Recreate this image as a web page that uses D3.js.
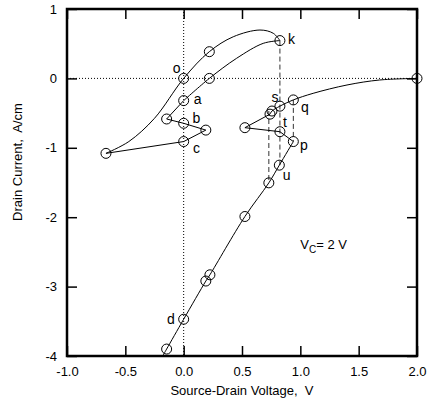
<!DOCTYPE html>
<html>
<head>
<meta charset="utf-8">
<script src="https://cdn.jsdelivr.net/npm/d3@7"></script>
<style>
  body { margin: 0; background: #fff; }
  text { font-family: "Liberation Sans", Arial, sans-serif; white-space: pre; }
</style>
</head>
<body>
<div id="chart"></div>
<script>
// left loop, upper branch: start point up through o to k
const upperX = [-0.666, -0.47, -0.25, 0, 0.22, 0.425, 0.654, 0.768, 0.825];
const upperY = [-1.08, -0.91, -0.575, 0, 0.385, 0.60, 0.697, 0.65, 0.545];
// k back down to a
const returnX = [0.825, 0.682, 0.454, 0.22, 0];
const returnY = [0.545, 0.505, 0.29, 0, -0.32];
// a -> b -> c -> start (straight pieces)
const zigX = [0, -0.146, 0, 0.19, 0, -0.666];
const zigY = [-0.32, -0.585, -0.647, -0.745, -0.91, -1.08];
// right branch: 2 V back to the knot near s
const rightX = [2.0, 1.68, 1.40, 1.11, 0.94, 0.825, 0.757, 0.74];
const rightY = [0, -0.023, -0.095, -0.215, -0.31, -0.40, -0.47, -0.515];
// knot -> t -> p
const knotX = [0.74, 0.525, 0.825, 0.94];
const knotY = [-0.515, -0.71, -0.768, -0.91];
// p down through u and d to the bottom edge
const lowX = [0.94, 0.82, 0.73, 0.525, 0.225, 0.19, 0, -0.146, -0.18];
const lowY = [-0.91, -1.25, -1.505, -1.99, -2.83, -2.92, -3.47, -3.9, -4.0];

// measured points (circles)
const markX = [-0.666, 0, 0.22, 0.825, 0.22, 0, -0.146, 0, 0.19, 0,
               2.0, 0.94, 0.825, 0.757, 0.74, 0.525, 0.825, 0.94, 0.82, 0.73, 0.525, 0.225, 0.19, 0, -0.146];
const markY = [-1.08, 0, 0.385, 0.545, 0, -0.32, -0.585, -0.647, -0.745, -0.91,
               0, -0.31, -0.40, -0.47, -0.515, -0.71, -0.768, -0.91, -1.25, -1.505, -1.99, -2.83, -2.92, -3.47, -3.9];

// dashed verticals
const dashX = [0.825, 0.94, 0.73];
const dashTop = [0.545, -0.31, -0.47];
const dashBottom = [-1.25, -0.91, -1.505];

// point letters
const labelText = ["k", "o", "a", "b", "c", "s", "q", "t", "p", "u", "d"];
const labelX = [0.925, -0.06, 0.12, 0.11, 0.11, 0.783, 1.04, 0.868, 1.031, 0.883, -0.109];
const labelY = [0.565, 0.145, -0.30, -0.575, -1.0, -0.264, -0.408, -0.633, -0.96, -1.40, -3.47];

const xTicks = [-1.0, -0.5, 0.0, 0.5, 1.0, 1.5, 2.0];
const yTicks = [1, 0, -1, -2, -3, -4];

const W = 427, H = 404;
const margin = { top: 9, right: 10, bottom: 48, left: 67 };
const width = W - margin.left - margin.right;
const height = H - margin.top - margin.bottom;

const svg = d3.select("#chart").append("svg")
    .attr("width", W).attr("height", H);
const g = svg.append("g")
    .attr("transform", `translate(${margin.left},${margin.top})`);

const x = d3.scaleLinear().domain([-1, 2]).range([0, width]);
const y = d3.scaleLinear().domain([-4, 1]).range([height, 0]);

// dotted zero lines
g.append("line")
    .attr("x1", 0).attr("x2", width)
    .attr("y1", y(0)).attr("y2", y(0))
    .attr("stroke", "#000").attr("stroke-width", 1)
    .attr("stroke-dasharray", "1,2");
g.append("line")
    .attr("x1", x(0)).attr("x2", x(0))
    .attr("y1", 0).attr("y2", height)
    .attr("stroke", "#000").attr("stroke-width", 1)
    .attr("stroke-dasharray", "1,2");

// dashed verticals
g.append("g").selectAll("line")
    .data(dashX)
    .join("line")
    .attr("x1", d => x(d)).attr("x2", d => x(d))
    .attr("y1", (d, i) => y(dashTop[i]))
    .attr("y2", (d, i) => y(dashBottom[i]))
    .attr("stroke", "#333").attr("stroke-width", 1)
    .attr("stroke-dasharray", "5,3");

const zip = (xs, ys) => xs.map((v, i) => [v, ys[i]]);
const smooth = d3.line().x(d => x(d[0])).y(d => y(d[1])).curve(d3.curveCatmullRom.alpha(0.5));
const straight = d3.line().x(d => x(d[0])).y(d => y(d[1]));

const paths = [
    [zip(upperX, upperY), smooth],
    [zip(returnX, returnY), smooth],
    [zip(zigX, zigY), straight],
    [zip(rightX, rightY), smooth],
    [zip(knotX, knotY), straight],
    [zip(lowX, lowY), smooth]
];
paths.forEach(([pts, gen]) => {
    g.append("path")
        .attr("d", gen(pts))
        .attr("fill", "none")
        .attr("stroke", "#000")
        .attr("stroke-width", 1);
});

// circles
g.append("g").selectAll("circle")
    .data(zip(markX, markY))
    .join("circle")
    .attr("cx", d => x(d[0]))
    .attr("cy", d => y(d[1]))
    .attr("r", 5)
    .attr("fill", "none")
    .attr("stroke", "#000")
    .attr("stroke-width", 1);

// letters
g.append("g").selectAll("text")
    .data(labelText)
    .join("text")
    .attr("x", (d, i) => x(labelX[i]))
    .attr("y", (d, i) => y(labelY[i]))
    .attr("text-anchor", "middle")
    .attr("dy", "0.35em")
    .attr("font-size", 14)
    .text(d => d);

// V_C annotation
const vc = g.append("text")
    .attr("x", x(1.0))
    .attr("y", y(-2.46))
    .attr("font-size", 13);
vc.append("tspan").text("V");
vc.append("tspan").attr("font-size", 10).attr("dy", 4).text("C");
vc.append("tspan").attr("dy", -4).text("= 2 V");

// axes, ticks pointing inward; plain hyphen minus like the original
const tickLen = 10;
g.append("g")
    .attr("transform", `translate(0,${height})`)
    .call(d3.axisBottom(x).tickValues(xTicks).tickFormat(d => d.toFixed(1)).tickSize(-tickLen).tickPadding(11))
    .call(a => a.select(".domain").remove());
g.append("g")
    .call(d3.axisTop(x).tickValues(xTicks).tickSize(-tickLen).tickFormat(""))
    .call(a => a.select(".domain").remove());
g.append("g")
    .call(d3.axisLeft(y).tickValues(yTicks).tickFormat(d => String(d)).tickSize(-tickLen).tickPadding(10))
    .call(a => a.select(".domain").remove());
g.append("g")
    .attr("transform", `translate(${width},0)`)
    .call(d3.axisRight(y).tickValues(yTicks).tickSize(-tickLen).tickFormat(""))
    .call(a => a.select(".domain").remove());

g.selectAll(".tick line").attr("stroke-width", 1.5);
g.selectAll(".tick text").attr("font-size", 13).attr("font-family", "Liberation Sans, Arial, sans-serif");

// frame
g.append("rect")
    .attr("width", width).attr("height", height)
    .attr("fill", "none")
    .attr("stroke", "#000")
    .attr("stroke-width", 2.5);

// axis titles
svg.append("text")
    .attr("x", margin.left + x(0.5))
    .attr("y", 395)
    .attr("text-anchor", "middle")
    .attr("font-size", 13)
    .text("Source-Drain Voltage,  V");
svg.append("text")
    .attr("transform", `translate(22,${162}) rotate(-90)`)
    .attr("text-anchor", "middle")
    .attr("font-size", 13)
    .text("Drain Current,  A/cm");
</script>
</body>
</html>
